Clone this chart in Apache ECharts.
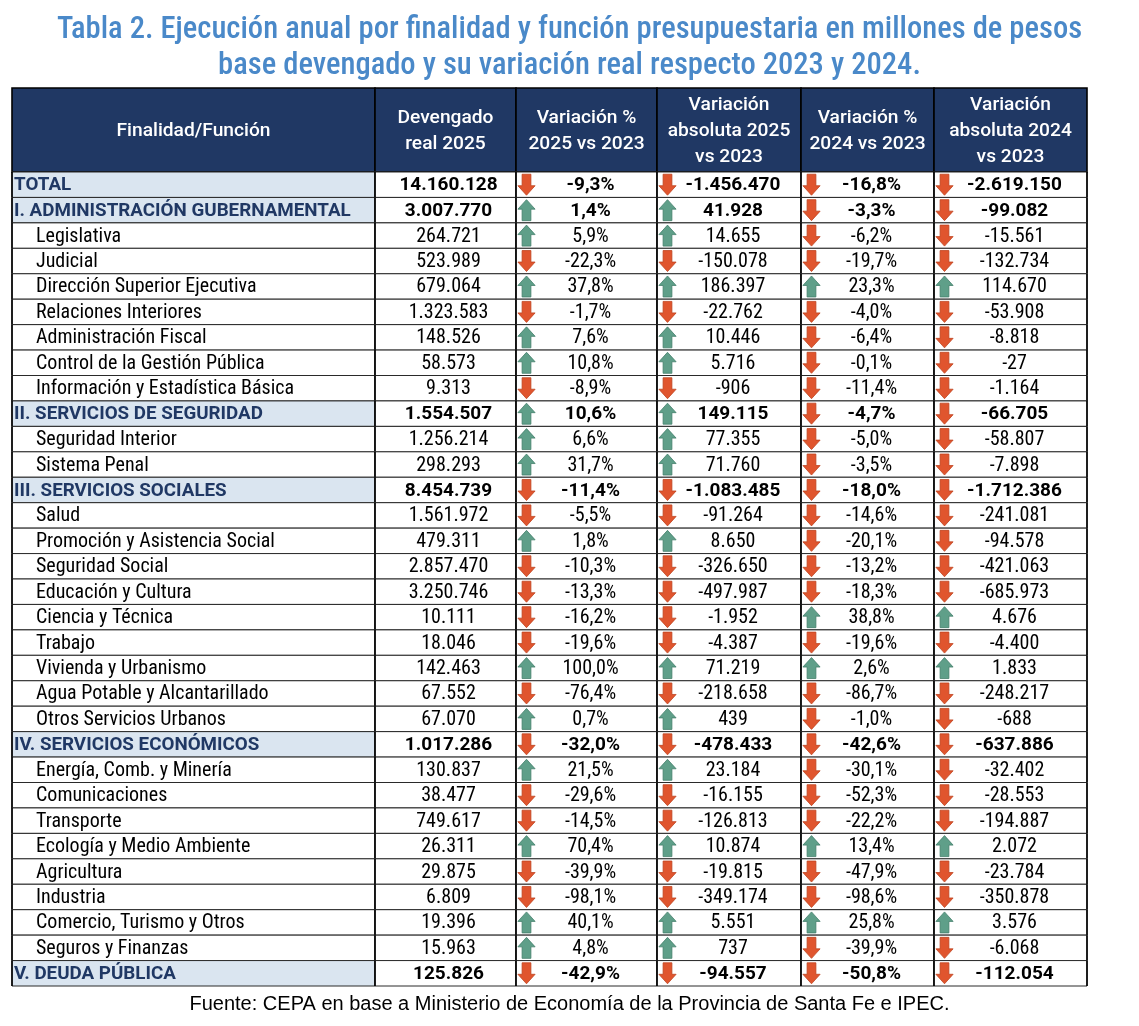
<!DOCTYPE html>
<html>
<head>
<meta charset="utf-8">
<script src="https://cdn.jsdelivr.net/npm/echarts@6/dist/echarts.min.js"></script>
<style>
  html, body { margin: 0; padding: 0; background: #fff; }
  #chart { width: 1139px; height: 1026px; }
</style>
</head>
<body>
<div id="chart"></div>
<script>
// Datos de la tabla
const headers = ['Finalidad/Función', 'Devengado\nreal 2025', 'Variación %\n2025 vs 2023',
  'Variación\nabsoluta 2025\nvs 2023', 'Variación %\n2024 vs 2023', 'Variación\nabsoluta 2024\nvs 2023'];

const rowLabels = [
  'TOTAL',
  'I. ADMINISTRACIÓN GUBERNAMENTAL',
  'Legislativa', 'Judicial', 'Dirección Superior Ejecutiva', 'Relaciones Interiores',
  'Administración Fiscal', 'Control de la Gestión Pública', 'Información y Estadística Básica',
  'II. SERVICIOS DE SEGURIDAD',
  'Seguridad Interior', 'Sistema Penal',
  'III. SERVICIOS SOCIALES',
  'Salud', 'Promoción y Asistencia Social', 'Seguridad Social', 'Educación y Cultura',
  'Ciencia y Técnica', 'Trabajo', 'Vivienda y Urbanismo', 'Agua Potable y Alcantarillado',
  'Otros Servicios Urbanos',
  'IV. SERVICIOS ECONÓMICOS',
  'Energía, Comb. y Minería', 'Comunicaciones', 'Transporte', 'Ecología y Medio Ambiente',
  'Agricultura', 'Industria', 'Comercio, Turismo y Otros', 'Seguros y Finanzas',
  'V. DEUDA PÚBLICA'
];

// total / section / item
const rowKind = [
  'total', 'section',
  'item', 'item', 'item', 'item', 'item', 'item', 'item',
  'section', 'item', 'item',
  'section', 'item', 'item', 'item', 'item', 'item', 'item', 'item', 'item', 'item',
  'section', 'item', 'item', 'item', 'item', 'item', 'item', 'item', 'item',
  'section'
];

const devengado2025 = [
  14160128, 3007770, 264721, 523989, 679064, 1323583, 148526, 58573, 9313,
  1554507, 1256214, 298293,
  8454739, 1561972, 479311, 2857470, 3250746, 10111, 18046, 142463, 67552, 67070,
  1017286, 130837, 38477, 749617, 26311, 29875, 6809, 19396, 15963,
  125826
];

const varPct25 = [
  -9.3, 1.4, 5.9, -22.3, 37.8, -1.7, 7.6, 10.8, -8.9,
  10.6, 6.6, 31.7,
  -11.4, -5.5, 1.8, -10.3, -13.3, -16.2, -19.6, 100.0, -76.4, 0.7,
  -32.0, 21.5, -29.6, -14.5, 70.4, -39.9, -98.1, 40.1, 4.8,
  -42.9
];

const varAbs25 = [
  -1456470, 41928, 14655, -150078, 186397, -22762, 10446, 5716, -906,
  149115, 77355, 71760,
  -1083485, -91264, 8650, -326650, -497987, -1952, -4387, 71219, -218658, 439,
  -478433, 23184, -16155, -126813, 10874, -19815, -349174, 5551, 737,
  -94557
];

const varPct24 = [
  -16.8, -3.3, -6.2, -19.7, 23.3, -4.0, -6.4, -0.1, -11.4,
  -4.7, -5.0, -3.5,
  -18.0, -14.6, -20.1, -13.2, -18.3, 38.8, -19.6, 2.6, -86.7, -1.0,
  -42.6, -30.1, -52.3, -22.2, 13.4, -47.9, -98.6, 25.8, -39.9,
  -50.8
];

const varAbs24 = [
  -2619150, -99082, -15561, -132734, 114670, -53908, -8818, -27, -1164,
  -66705, -58807, -7898,
  -1712386, -241081, -94578, -421063, -685973, 4676, -4400, 1833, -248217, -688,
  -637886, -32402, -28553, -194887, 2072, -23784, -350878, 3576, -6068,
  -112054
];

// bordes de columnas (unidades del eje x)
const colEdges = [0, 363, 504, 645, 789, 922, 1075];

const FONT = 'Roboto, "Noto Sans", sans-serif';
const FONT_NARROW = '"Roboto Condensed", sans-serif';
const NAVY = '#203864';
const RED = '#e0552e', RED_DARK = '#bf4420';
const GREEN = '#5f9f89', GREEN_DARK = '#447f6b';

function fmtInt(v) {
  const s = Math.abs(Math.round(v)).toString().replace(/\B(?=(\d{3})+(?!\d))/g, '.');
  return (v < 0 ? '-' : '') + s;
}
function fmtPct(v) {
  return v.toFixed(1).replace('.', ',') + '%';
}

// flecha estilo "icon set" de Excel
function arrow(cx, cy, up) {
  const hw = 8.6, sw = 4.4, top = cy - 10.5, bot = cy + 10.5, mid = up ? cy - 1 : cy + 1;
  const pts = up
    ? [[cx, top], [cx + hw, mid], [cx + sw, mid], [cx + sw, bot], [cx - sw, bot], [cx - sw, mid], [cx - hw, mid]]
    : [[cx, bot], [cx + hw, mid], [cx + sw, mid], [cx + sw, top], [cx - sw, top], [cx - sw, mid], [cx - hw, mid]];
  return {
    type: 'polygon',
    shape: { points: pts },
    style: { fill: up ? GREEN : RED, stroke: up ? GREEN_DARK : RED_DARK, lineWidth: 0.8 }
  };
}

function renderHeader(params, api) {
  const c = api.value(0);
  const p0 = api.coord([colEdges[c], 0]);
  const p1 = api.coord([colEdges[c + 1], 0]);
  const h = api.size([0, 1])[1];
  return {
    type: 'group',
    children: [
      {
        type: 'rect',
        shape: { x: p0[0], y: p0[1] - h / 2, width: p1[0] - p0[0], height: h },
        style: { fill: NAVY, stroke: '#000', lineWidth: 1.6 }
      },
      {
        type: 'text',
        style: {
          text: headers[c], x: (p0[0] + p1[0]) / 2, y: p0[1] + 1,
          align: 'center', verticalAlign: 'middle',
          fill: '#fff', fontFamily: FONT, fontSize: 19.2, fontWeight: 500, lineHeight: 26
        }
      }
    ]
  };
}

function renderRow(params, api) {
  const i = api.value(1);
  const bold = rowKind[i] !== 'item';
  const yc = api.coord([0, i])[1];
  const h = api.size([0, 1])[1];
  const top = yc - h / 2;
  const xs = colEdges.map(e => api.coord([e, i])[0]);
  const txt = bold
    ? { fontFamily: FONT, fontSize: 19, fontWeight: 'bold' }
    : { fontFamily: FONT_NARROW, fontSize: 20, fontWeight: 'normal' };
  const children = [];

  for (let c = 0; c < 6; c++) {
    children.push({
      type: 'rect',
      shape: { x: xs[c], y: top, width: xs[c + 1] - xs[c], height: h },
      style: { fill: (c === 0 && bold) ? '#dae5f0' : '#fff', stroke: '#2a2a2a', lineWidth: 1 }
    });
  }
  // separadores verticales
  for (let c = 0; c < 7; c++) {
    children.push({
      type: 'line',
      shape: { x1: xs[c], y1: top, x2: xs[c], y2: top + h },
      style: { stroke: '#000', lineWidth: 1.6 }
    });
  }

  children.push({
    type: 'text',
    style: Object.assign({
      text: rowLabels[i], x: xs[0] + (bold ? 2 : 24), y: yc + 1,
      align: 'left', verticalAlign: 'middle',
      fill: bold ? NAVY : '#000'
    }, bold ? { fontFamily: FONT, fontSize: 18.8, fontWeight: 'bold' } : txt)
  });
  children.push({
    type: 'text',
    style: Object.assign({
      text: fmtInt(devengado2025[i]), x: (xs[1] + xs[2]) / 2 + 3, y: yc + 1,
      align: 'center', verticalAlign: 'middle', fill: '#000'
    }, txt)
  });

  const cols = [
    [varPct25[i], fmtPct(varPct25[i])],
    [varAbs25[i], fmtInt(varAbs25[i])],
    [varPct24[i], fmtPct(varPct24[i])],
    [varAbs24[i], fmtInt(varAbs24[i])]
  ];
  cols.forEach((cv, k) => {
    const c = k + 2;
    children.push(arrow(xs[c] + 10.5, yc, cv[0] >= 0));
    children.push({
      type: 'text',
      style: Object.assign({
        text: cv[1], x: (xs[c] + xs[c + 1]) / 2 + 4, y: yc + 1,
        align: 'center', verticalAlign: 'middle', fill: '#000'
      }, txt)
    });
  });

  return { type: 'group', children: children };
}

const chart = echarts.init(document.getElementById('chart'), null, { renderer: 'canvas' });

const option = {
  backgroundColor: '#fff',
  animation: false,
  title: [
    {
      text: 'Tabla 2. Ejecución anual por finalidad y función presupuestaria en millones de pesos\nbase devengado y su variación real respecto 2023 y 2024.',
      left: 'center',
      top: 7,
      textStyle: {
        color: '#4a89c9', fontSize: 30.6, fontWeight: 500, lineHeight: 36,
        fontFamily: '"Roboto Condensed", sans-serif'
      }
    },
    {
      text: 'Fuente: CEPA en base a Ministerio de Economía de la Provincia de Santa Fe e IPEC.',
      left: 'center',
      top: 989,
      textStyle: { color: '#000', fontSize: 20, fontWeight: 'normal', fontFamily: '"Liberation Sans", Arial, sans-serif' }
    }
  ],
  grid: [
    { left: 12, width: 1075, top: 88, height: 84 },
    { left: 12, width: 1075, top: 172, height: 814 }
  ],
  xAxis: [
    { type: 'value', gridIndex: 0, min: 0, max: 1075, show: false },
    { type: 'value', gridIndex: 1, min: 0, max: 1075, show: false }
  ],
  yAxis: [
    { type: 'category', gridIndex: 0, data: ['header'], show: false },
    { type: 'category', gridIndex: 1, data: rowLabels, inverse: true, show: false }
  ],
  series: [
    {
      type: 'custom',
      xAxisIndex: 0,
      yAxisIndex: 0,
      renderItem: renderHeader,
      encode: { x: 0, y: 1 },
      data: headers.map((h, c) => [c, 0]),
      clip: false
    },
    {
      type: 'custom',
      xAxisIndex: 1,
      yAxisIndex: 1,
      renderItem: renderRow,
      encode: { x: 0, y: 1 },
      data: rowLabels.map((r, i) => [0, i]),
      clip: false
    }
  ]
};

chart.setOption(option);
window.addEventListener('resize', () => chart.resize());
</script>
</body>
</html>
